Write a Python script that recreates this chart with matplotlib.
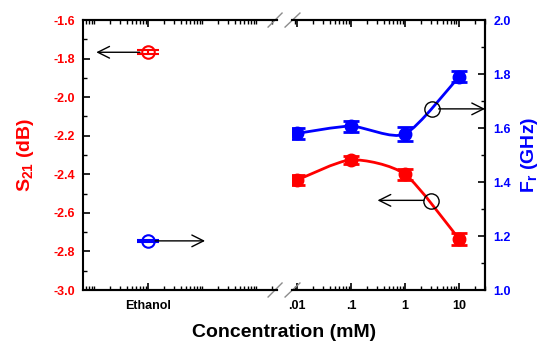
import numpy as np
import matplotlib
matplotlib.use("Agg")
import matplotlib.pyplot as plt
from matplotlib.path import Path
from matplotlib.patches import PathPatch
from matplotlib.ticker import FixedLocator, LogLocator, NullFormatter, MultipleLocator

plt.rcParams['font.family'] = ['Liberation Sans', 'DejaVu Sans']
plt.rcParams['font.weight'] = 'bold'
plt.rcParams['axes.unicode_minus'] = False
plt.rcParams['mathtext.fontset'] = 'custom'
plt.rcParams['mathtext.rm'] = 'Liberation Sans:bold'
plt.rcParams['mathtext.bf'] = 'Liberation Sans:bold'
plt.rcParams['mathtext.it'] = 'Liberation Sans:bold'
plt.rcParams['mathtext.default'] = 'bf'

# data
conc = [0.01, 0.1, 1, 10]                  # mM
s21 = [-2.43, -2.325, -2.40, -2.735]       # dB
s21_err = [0.025, 0.02, 0.03, 0.03]
fr = [1.58, 1.607, 1.578, 1.79]            # GHz
fr_err = [0.02, 0.02, 0.025, 0.02]

eth_s21 = -1.767
eth_s21_err = 0.01
eth_fr = 1.182
eth_fr_err = 0.005
eth_pos = 1.0   # position of the "Ethanol" point on the left segment


def smooth_path(xs, ys, k=0.12):
    # Catmull-Rom style curve in log-x space, as bezier control points
    lx = np.log10(xs)
    y = np.asarray(ys, float)
    n = len(lx)
    verts = [(lx[0], y[0])]
    codes = [Path.MOVETO]
    for i in range(n - 1):
        i0, i3 = max(i - 1, 0), min(i + 2, n - 1)
        c1 = (lx[i] + (lx[i + 1] - lx[i0]) * k, y[i] + (y[i + 1] - y[i0]) * k)
        c2 = (lx[i + 1] - (lx[i3] - lx[i]) * k, y[i + 1] - (y[i3] - y[i]) * k)
        verts += [c1, c2, (lx[i + 1], y[i + 1])]
        codes += [Path.CURVE4] * 3
    verts = [(10 ** vx, vy) for vx, vy in verts]
    return Path(verts, codes)


fig = plt.figure(figsize=(5.44, 3.43), dpi=100)
axL = fig.add_axes([0.1526, 0.1545, 0.3566, 0.787])
axL2 = axL.twinx()
axR = fig.add_axes([0.5368, 0.1545, 0.3548, 0.787])
axR2 = axR.twinx()

red = '#ff0000'
blue = '#0000ff'

for a in (axL, axL2, axR, axR2):
    a.set_xscale('log')
    for s in a.spines.values():
        s.set_linewidth(1.5)
    a.tick_params(which='major', direction='in', length=5, width=1.2, pad=6)
    a.tick_params(which='minor', direction='in', length=3, width=1.0)

axL.set_xlim(0.0625, 245)
axL.set_ylim(-3.0, -1.6)
axL2.set_ylim(1.0, 2.0)
axR.set_xlim(0.00808, 30.4)
axR.set_ylim(-3.0, -1.6)
axR2.set_ylim(1.0, 2.0)

# left segment
axL.spines['right'].set_visible(False)
axL2.spines['right'].set_visible(False)
axL2.spines['left'].set_visible(False)
axL2.set_yticks([])
axL.xaxis.set_major_locator(FixedLocator([eth_pos]))
axL.set_xticklabels(['Ethanol'])
axL.xaxis.set_minor_locator(LogLocator(base=10, subs=np.arange(1, 10)))
axL.xaxis.set_minor_formatter(NullFormatter())
axL.tick_params(axis='x', which='both', top=True, bottom=True, labelsize=9)
axL.tick_params(axis='x', which='major', pad=7)
axL.yaxis.set_major_locator(MultipleLocator(0.2))
axL.yaxis.set_minor_locator(MultipleLocator(0.1))
axL.tick_params(axis='y', which='both', left=True, right=False, labelsize=9,
                labelcolor=red)
axL.set_ylabel('S$_{21}$ (dB)', color=red, fontsize=14, fontweight='bold')
axL.yaxis.set_label_coords(-0.24, 0.5)

# right segment
axR.spines['left'].set_visible(False)
axR2.spines['left'].set_visible(False)
axR.set_yticks([])
axR.xaxis.set_major_locator(FixedLocator(conc))
axR.set_xticklabels(['.01', '.1', '1', '10'])
axR.xaxis.set_minor_locator(LogLocator(base=10, subs=np.arange(2, 10)))
axR.xaxis.set_minor_formatter(NullFormatter())
axR.tick_params(axis='x', which='both', top=True, bottom=True, labelsize=9)
axR.tick_params(axis='x', which='major', pad=7)
axR2.yaxis.set_major_locator(MultipleLocator(0.2))
axR2.yaxis.set_minor_locator(MultipleLocator(0.1))
axR2.tick_params(axis='y', which='both', right=True, left=False, labelsize=9,
                 labelcolor=blue)
axR2.set_ylabel('F$_{r}$ (GHz)', color=blue, fontsize=14, fontweight='bold')
axR2.yaxis.set_label_coords(1.175, 0.5)

# curves
axR.add_patch(PathPatch(smooth_path(conc, s21), fill=False, ec=red, lw=2))
axR2.add_patch(PathPatch(smooth_path(conc, fr), fill=False, ec=blue, lw=2))
axR.errorbar(conc, s21, yerr=s21_err, fmt='o', color=red, ms=9,
             capsize=5.5, capthick=2, elinewidth=2)
axR2.errorbar(conc, fr, yerr=fr_err, fmt='o', color=blue, ms=9,
              capsize=5.5, capthick=2, elinewidth=2)

# ethanol points
axL.errorbar([eth_pos], [eth_s21], yerr=[eth_s21_err], fmt='o', mfc='none',
             mec=red, color=red, ms=9, mew=1.5, capsize=8, capthick=1.5)
axL2.errorbar([eth_pos], [eth_fr], yerr=[eth_fr_err], fmt='o', mfc='none',
              mec=blue, color=blue, ms=9, mew=1.5, capsize=8, capthick=1.5)

arrow = dict(arrowstyle='->,head_length=0.6,head_width=0.3', color='black',
             lw=1, mutation_scale=14, shrinkA=0, shrinkB=0)
axL.annotate('', xy=(0.11, eth_s21), xytext=(0.71, eth_s21), arrowprops=arrow)
axL2.annotate('', xy=(11.4, eth_fr), xytext=(1.35, eth_fr), arrowprops=arrow)

# pointer circles on the curves
axR2.plot([3.16], [1.671], 'o', mfc='none', mec='black', ms=11, mew=1)
axR2.annotate('', xy=(30.4, 1.671), xytext=(4.2, 1.671), arrowprops=arrow)
axR.plot([3.0], [-2.54], 'o', mfc='none', mec='black', ms=11, mew=1)
axR.annotate('', xy=(0.31, -2.535), xytext=(2.25, -2.535), arrowprops=arrow)

# axis break marks
brk = dict(color='0.55', lw=1, clip_on=False)
for yy in (0, 1):
    axL.plot([0.954, 1.026], [yy - 0.026, yy + 0.026], transform=axL.transAxes, **brk)
    axR.plot([-0.036, 0.041], [yy - 0.026, yy + 0.026], transform=axR.transAxes, **brk)

fig.text(0.522, 0.03, 'Concentration (mM)', ha='center', va='center',
         fontsize=14, fontweight='bold')

fig.savefig('out.png', dpi=100)
